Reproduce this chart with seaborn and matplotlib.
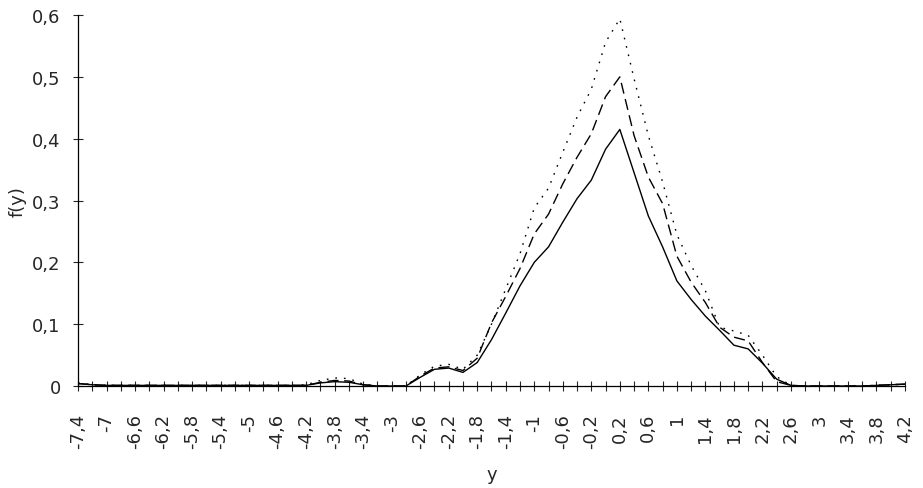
import matplotlib
matplotlib.use("Agg")
import matplotlib.pyplot as plt
import pandas as pd
import seaborn as sns
from matplotlib.ticker import FixedLocator

# category values on the y axis of the density (step 0,2)
y_vals = [-7.4, -7.2, -7.0, -6.8, -6.6, -6.4, -6.2, -6.0, -5.8, -5.6,
          -5.4, -5.2, -5.0, -4.8, -4.6, -4.4, -4.2, -4.0, -3.8, -3.6,
          -3.4, -3.2, -3.0, -2.8, -2.6, -2.4, -2.2, -2.0, -1.8, -1.6,
          -1.4, -1.2, -1.0, -0.8, -0.6, -0.4, -0.2, 0.0, 0.2, 0.4,
          0.6, 0.8, 1.0, 1.2, 1.4, 1.6, 1.8, 2.0, 2.2, 2.4,
          2.6, 2.8, 3.0, 3.2, 3.4, 3.6, 3.8, 4.0, 4.2]

f_solid = [0.004, 0.002, 0.001, 0.001, 0.001, 0.001, 0.001, 0.001, 0.001, 0.001,
           0.001, 0.001, 0.001, 0.001, 0.001, 0.001, 0.001, 0.005, 0.007, 0.006,
           0.002, 0.0, 0.0, 0.0, 0.014, 0.027, 0.029, 0.022, 0.038, 0.075,
           0.118, 0.162, 0.200, 0.225, 0.265, 0.303, 0.333, 0.383, 0.415, 0.345,
           0.275, 0.225, 0.170, 0.140, 0.113, 0.090, 0.066, 0.060, 0.037, 0.011,
           0.001, 0.0, 0.0, 0.0, 0.0, 0.0, 0.001, 0.002, 0.003]

f_dashed = [0.004, 0.002, 0.001, 0.001, 0.001, 0.001, 0.001, 0.001, 0.001, 0.001,
            0.001, 0.001, 0.001, 0.001, 0.001, 0.001, 0.001, 0.006, 0.009, 0.008,
            0.002, 0.0, 0.0, 0.0, 0.016, 0.029, 0.031, 0.025, 0.045, 0.102,
            0.145, 0.190, 0.246, 0.278, 0.327, 0.370, 0.408, 0.468, 0.500, 0.405,
            0.338, 0.295, 0.210, 0.168, 0.135, 0.095, 0.079, 0.073, 0.038, 0.007,
            0.001, 0.0, 0.0, 0.0, 0.0, 0.0, 0.001, 0.002, 0.003]

f_dotted = [0.005, 0.002, 0.001, 0.001, 0.001, 0.001, 0.001, 0.001, 0.001, 0.001,
            0.001, 0.001, 0.001, 0.001, 0.001, 0.001, 0.002, 0.009, 0.013, 0.012,
            0.003, 0.0, 0.0, 0.0, 0.018, 0.032, 0.035, 0.027, 0.050, 0.100,
            0.157, 0.214, 0.288, 0.320, 0.378, 0.435, 0.480, 0.556, 0.594, 0.497,
            0.405, 0.330, 0.245, 0.195, 0.154, 0.095, 0.089, 0.082, 0.050, 0.015,
            0.001, 0.0, 0.0, 0.0, 0.0, 0.0, 0.001, 0.002, 0.003]

y_ticks = [0.0, 0.1, 0.2, 0.3, 0.4, 0.5, 0.6]


def comma(v):
    return f"{round(v, 1):g}".replace(".", ",")


df = pd.concat([
    pd.DataFrame({"y": y_vals, "f": f_solid, "serie": "a"}),
    pd.DataFrame({"y": y_vals, "f": f_dashed, "serie": "b"}),
    pd.DataFrame({"y": y_vals, "f": f_dotted, "serie": "c"}),
])

sns.set_style("white")
plt.rcParams["font.family"] = ["DejaVu Sans"]

fig = plt.figure(figsize=(9.23, 4.89), dpi=100)
ax = fig.add_axes([0.0845, 0.2086, 0.896, 0.7586])

sns.lineplot(data=df, x="y", y="f", style="serie", color="black", linewidth=1.0,
             dashes={"a": "", "b": (8, 4), "c": (1.2, 5)}, legend=False, ax=ax)

ax.set_xlim(y_vals[0], y_vals[-1])
ax.set_ylim(0, 0.6)

# labelled ticks every 0,4 and the small crosses in between
major = y_vals[::2]
ax.xaxis.set_major_locator(FixedLocator(major))
ax.xaxis.set_minor_locator(FixedLocator(y_vals[1::2]))
ax.set_xticklabels([comma(v) for v in major], rotation=90, va="top", ha="center")
ax.set_yticks(y_ticks)
ax.set_yticklabels([comma(v) for v in y_ticks])

ax.tick_params(axis="x", which="both", direction="inout", length=7, width=0.8,
               labelsize=13, pad=16, bottom=True)
ax.tick_params(axis="y", direction="inout", length=7, width=0.8,
               labelsize=13, pad=9, left=True)

for s in ["top", "right"]:
    ax.spines[s].set_visible(False)
for s in ["left", "bottom"]:
    ax.spines[s].set_linewidth(0.9)
    ax.spines[s].set_color("black")

ax.set_xlabel("y", fontsize=13, labelpad=12)
ax.set_ylabel("f(y)", fontsize=13, labelpad=4)

fig.savefig("out.png", dpi=100)
